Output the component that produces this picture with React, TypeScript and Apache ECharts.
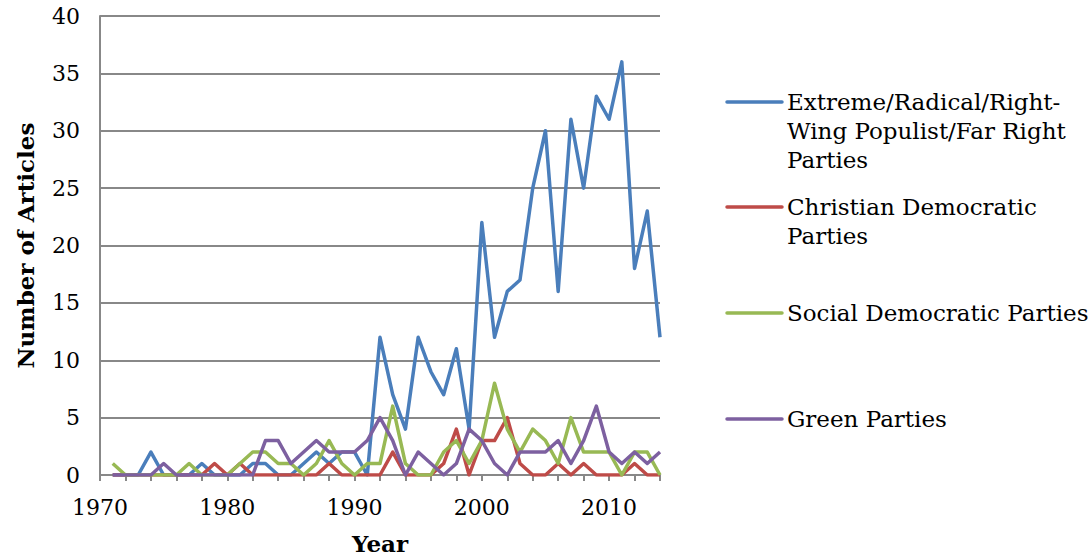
import React, { useEffect, useRef } from "react";
import * as echarts from "echarts";

const YEARS = [
  "1970", "1971", "1972", "1973", "1974", "1975", "1976", "1977", "1978", "1979",
  "1980", "1981", "1982", "1983", "1984", "1985", "1986", "1987", "1988", "1989",
  "1990", "1991", "1992", "1993", "1994", "1995", "1996", "1997", "1998", "1999",
  "2000", "2001", "2002", "2003", "2004", "2005", "2006", "2007", "2008", "2009",
  "2010", "2011", "2012", "2013", "2014",
];

const EXTREME = [
  null,
  0, 0, 0, 2, 0, 0, 0, 1, 0, 0,
  0, 1, 1, 0, 0, 1, 2, 1, 2, 2,
  0, 12, 7, 4, 12, 9, 7, 11, 4, 22,
  12, 16, 17, 25, 30, 16, 31, 25, 33, 31,
  36, 18, 23, 12,
];
const CHRISTIAN = [
  null,
  0, 0, 0, 0, 0, 0, 0, 0, 1, 0,
  1, 0, 0, 0, 0, 0, 0, 1, 0, 0,
  0, 0, 2, 0, 0, 0, 1, 4, 0, 3,
  3, 5, 1, 0, 0, 1, 0, 1, 0, 0,
  0, 1, 0, 0,
];
const SOCIAL = [
  null,
  1, 0, 0, 0, 0, 0, 1, 0, 0, 0,
  1, 2, 2, 1, 1, 0, 1, 3, 1, 0,
  1, 1, 6, 1, 0, 0, 2, 3, 1, 3,
  8, 4, 2, 4, 3, 1, 5, 2, 2, 2,
  0, 2, 2, 0,
];
const GREEN = [
  null,
  0, 0, 0, 0, 1, 0, 0, 0, 0, 0,
  0, 0, 3, 3, 1, 2, 3, 2, 2, 2,
  3, 5, 3, 0, 2, 1, 0, 1, 4, 3,
  1, 0, 2, 2, 2, 3, 1, 3, 6, 2,
  1, 2, 1, 2,
];

const SERIES_NAMES = [
  "Extreme/Radical/Right-Wing Populist/Far Right Parties",
  "Christian Democratic Parties",
  "Social Democratic Parties",
  "Green Parties",
];
const LEGEND_LABELS = [
  "Extreme/Radical/Right-\nWing Populist/Far Right\nParties",
  "Christian Democratic\nParties",
  "Social Democratic Parties",
  "Green Parties",
];
const COLORS = ["#4A7EBB", "#BE4B48", "#98B954", "#7D60A0"];
const LEGEND_Y = [102, 207, 313, 419];

const FONT = "'DejaVu Serif', Georgia, serif";

export default function App() {
  const ref = useRef<HTMLDivElement>(null);

  useEffect(() => {
    if (!ref.current) return;
    const chart = echarts.init(ref.current, null, { renderer: "svg" });
    const datasets = [EXTREME, CHRISTIAN, SOCIAL, GREEN];

    const legendGraphics: any[] = [];
    LEGEND_LABELS.forEach((label, i) => {
      legendGraphics.push({
        type: "line",
        shape: { x1: 727, y1: LEGEND_Y[i], x2: 782, y2: LEGEND_Y[i] },
        style: { stroke: COLORS[i], lineWidth: 3.5, lineCap: "round" },
      });
      legendGraphics.push({
        type: "text",
        x: 787,
        y: LEGEND_Y[i] - 14.5,
        style: {
          text: label,
          font: `23px ${FONT}`,
          fill: "#000",
          lineHeight: 29,
          verticalAlign: "top",
          align: "left",
        },
      });
    });

    chart.setOption({
      animation: false,
      backgroundColor: "#fff",
      grid: { left: 100, right: 432, top: 16, bottom: 83, containLabel: false },
      xAxis: {
        type: "category",
        data: YEARS,
        boundaryGap: false,
        name: "Year",
        nameLocation: "middle",
        nameGap: 57,
        nameTextStyle: { fontFamily: FONT, fontWeight: "bold", fontSize: 23, color: "#000" },
        axisLine: { show: true, lineStyle: { color: "#888", width: 2 } },
        axisTick: { show: true, interval: 1, length: 6, lineStyle: { color: "#888", width: 2 } },
        axisLabel: { interval: 9, margin: 21, fontFamily: FONT, fontSize: 22, color: "#000" },
        splitLine: { show: false },
      },
      yAxis: {
        type: "value",
        min: 0,
        max: 40,
        interval: 5,
        name: "Number of Articles",
        nameLocation: "middle",
        nameRotate: 90,
        nameGap: 63,
        nameTextStyle: { fontFamily: FONT, fontWeight: "bold", fontSize: 23, color: "#000" },
        axisLine: { show: true, lineStyle: { color: "#888", width: 2 } },
        axisTick: { show: false },
        axisLabel: { margin: 20, fontFamily: FONT, fontSize: 22, color: "#000" },
        splitLine: { show: true, lineStyle: { color: "#888", width: 2 } },
      },
      series: datasets.map((d, i) => ({
        name: SERIES_NAMES[i],
        type: "line",
        data: d,
        showSymbol: false,
        symbol: "none",
        connectNulls: false,
        lineStyle: { color: COLORS[i], width: 3.5, join: "round" },
        itemStyle: { color: COLORS[i] },
        z: 2 + i,
      })),
      graphic: legendGraphics,
    });

    return () => chart.dispose();
  }, []);

  return (
    <div
      ref={ref}
      style={{ position: "fixed", left: 0, top: 0, width: 1092, height: 560 }}
    />
  );
}
